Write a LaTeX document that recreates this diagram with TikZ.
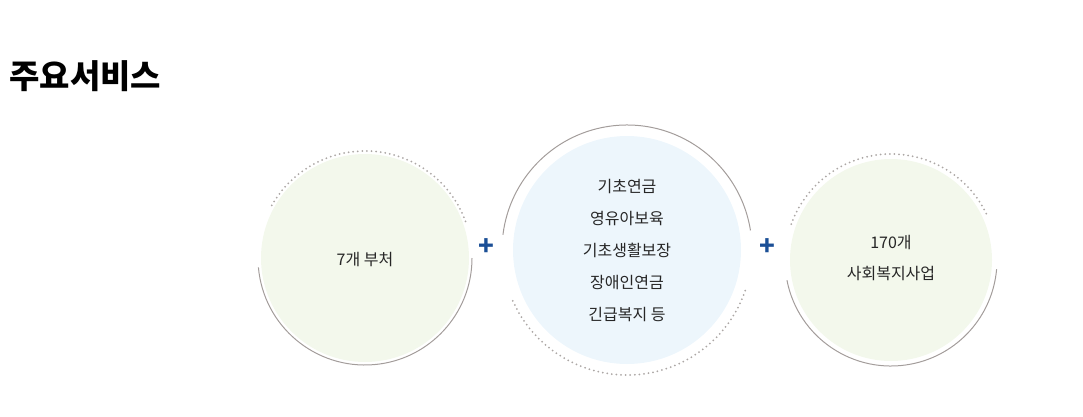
\documentclass[tikz,border=0pt]{standalone}
\usepackage{fontspec}
\setmainfont{Noto Sans CJK KR}
\usepackage{tikz}
\usetikzlibrary{calc}
\definecolor{ringGray}{HTML}{A39D9B}
\definecolor{greenFill}{HTML}{F3F8EC}
\definecolor{blueFill}{HTML}{EDF6FC}
\definecolor{plusBlue}{HTML}{1B4F96}
\newcommand{\titleText}{\bfseries 주요서비스}
\newcommand{\ringSolid}{1pt}
\tikzset{
	ring/.style={draw=ringGray, line width=\ringSolid},
	dots/.style={draw=ringGray!90, line width=2pt, line cap=round, dash pattern=on 0pt off 4.6pt},
	label/.style={font=\fontsize{16}{16}\selectfont, text=black!85, align=center},
	plus/.style={font=\fontsize{26}{26}\selectfont\bfseries, text=plusBlue}
}
\begin{document}
\begin{tikzpicture}[x=1pt,y=1pt]
	\useasboundingbox (0,0) rectangle (1083,-416);
	\node[anchor=west, font=\fontsize{33}{33}\selectfont] (title) at (6,-76) {\titleText};
	
	% center x / center y / fill radius / ring radius / fill / solid from / solid to / dots from / dots to
	\foreach \cx/\cy/\fr/\rr/\fc/\sa/\sb/\da/\db [count=\i] in {365/258/104/107/greenFill/185/360/20/153, 627/250/114/125/blueFill/9/173/204/343, 891/260/101/106/greenFill/191/355/26/161}
	{
		\fill[\fc] (\cx,-\cy) circle (\fr);
		\draw[ring] ($(\cx,-\cy)+(\sa:\rr)$) arc[start angle=\sa, end angle=\sb, radius=\rr];
		\draw[dots] ($(\cx,-\cy)+(\da:\rr)$) arc[start angle=\da, end angle=\db, radius=\rr];
		\coordinate (c\i) at (\cx,-\cy);
	}
	
	\node[label] (left) at (365,-260) {7개 부처};
	\node[label, inner sep=0pt] (mid) at (627,-250) {기초연금\\[16pt]영유아보육\\[16pt]기초생활보장\\[16pt]장애인연금\\[16pt]긴급복지 등};
	\node[label, inner sep=0pt] (right) at (891,-258) {170개\\[15pt]사회복지사업};
	
	\node[plus] (plusA) at (486,-247) {+};
	\node[plus] (plusB) at (767,-247) {+};
\end{tikzpicture}
\end{document}
